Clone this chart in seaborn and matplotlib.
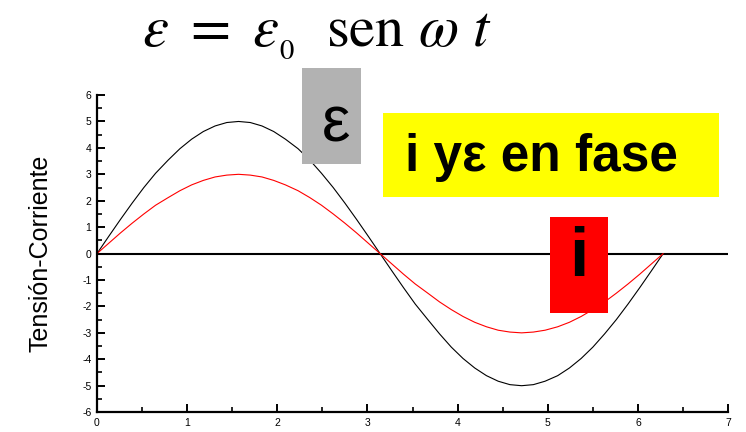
import matplotlib
matplotlib.use("Agg")
import matplotlib.pyplot as plt
import seaborn as sns
import pandas as pd
from matplotlib.ticker import MultipleLocator
from matplotlib.patches import Rectangle

# Data
t = [0, 0.13, 0.26, 0.39, 0.52, 0.65, 0.79, 0.92, 1.05, 1.18, 1.31, 1.44, 1.57,
     1.70, 1.83, 1.96, 2.09, 2.23, 2.36, 2.49, 2.62, 2.75, 2.88, 3.01, 3.14,
     3.27, 3.40, 3.53, 3.67, 3.80, 3.93, 4.06, 4.19, 4.32, 4.45, 4.58, 4.71,
     4.84, 4.97, 5.11, 5.24, 5.37, 5.50, 5.63, 5.76, 5.89, 6.02, 6.15, 6.28]
tension = [0, 0.65, 1.29, 1.91, 2.5, 3.04, 3.54, 3.97, 4.33, 4.62, 4.83, 4.96, 5.0,
           4.96, 4.83, 4.62, 4.33, 3.97, 3.54, 3.04, 2.5, 1.91, 1.29, 0.65, 0,
           -0.65, -1.29, -1.91, -2.5, -3.04, -3.54, -3.97, -4.33, -4.62, -4.83, -4.96, -5.0,
           -4.96, -4.83, -4.62, -4.33, -3.97, -3.54, -3.04, -2.5, -1.91, -1.29, -0.65, 0]
corriente = [0, 0.39, 0.78, 1.15, 1.5, 1.83, 2.12, 2.38, 2.6, 2.77, 2.9, 2.97, 3.0,
             2.97, 2.9, 2.77, 2.6, 2.38, 2.12, 1.83, 1.5, 1.15, 0.78, 0.39, 0,
             -0.39, -0.78, -1.15, -1.5, -1.83, -2.12, -2.38, -2.6, -2.77, -2.9, -2.97, -3.0,
             -2.97, -2.9, -2.77, -2.6, -2.38, -2.12, -1.83, -1.5, -1.15, -0.78, -0.39, 0]
x_ticks = [0, 1, 2, 3, 4, 5, 6, 7]
y_ticks = [-6, -5, -4, -3, -2, -1, 0, 1, 2, 3, 4, 5, 6]

df = pd.DataFrame({
    "t": t + t,
    "v": tension + corriente,
    "serie": ["eps"] * len(t) + ["i"] * len(t),
})

sns.set_style("white")
plt.rcParams["font.family"] = ["Liberation Sans", "DejaVu Sans"]
plt.rcParams["mathtext.fontset"] = "stix"
plt.rcParams["axes.unicode_minus"] = False
plt.rcParams["text.color"] = "black"
plt.rcParams["axes.labelcolor"] = "black"
plt.rcParams["xtick.color"] = "black"
plt.rcParams["ytick.color"] = "black"

fig = plt.figure(figsize=(7.46, 4.32), dpi=100)
ax = fig.add_axes([0.130, 0.046, 0.846, 0.734])

sns.lineplot(data=df, x="t", y="v", hue="serie", palette={"eps": "black", "i": "red"},
             sort=False, estimator=None, linewidth=0.8, legend=False, ax=ax)
ax.axhline(0, color="black", linewidth=1.5, zorder=1)

ax.set_xlim(0, 7)
ax.set_ylim(-6, 6)
ax.set_xticks(x_ticks)
ax.set_yticks(y_ticks)
ax.xaxis.set_minor_locator(MultipleLocator(0.5))
ax.yaxis.set_minor_locator(MultipleLocator(0.5))
ax.tick_params(which="major", direction="in", length=6, width=1.4, labelsize=7.5, pad=4,
               colors="black")
ax.tick_params(which="minor", direction="in", length=3.5, width=1.2, colors="black")
ax.tick_params(axis="x", which="both", bottom=True)
ax.tick_params(axis="y", which="both", left=True)
for s in ["top", "right"]:
    ax.spines[s].set_visible(False)
for s in ["left", "bottom"]:
    ax.spines[s].set_linewidth(1.6)
    ax.spines[s].set_color("black")
ax.set_xlabel("")
ax.set_ylabel("Tensión-Corriente", fontsize=18, labelpad=21, color="black")

# Title formula
fig.text(0.425, 0.922,
         r"$\varepsilon\ =\ \varepsilon_{_0}\ \ \mathrm{sen}\ \omega\ t$",
         fontsize=42, ha="center", va="center", color="black")

# Boxes
W, H = 746, 432
def box(x0, y0, x1, y1, color):
    fig.patches.append(Rectangle((x0 / W, 1 - y1 / H), (x1 - x0) / W, (y1 - y0) / H,
                                 transform=fig.transFigure, facecolor=color,
                                 edgecolor="none", zorder=5))

box(302, 68, 361, 164, "#b2b2b2")
box(383, 113, 719, 197, "#ffff00")
box(550, 217, 608, 313, "#ff0000")

fig.text(336 / W, 1 - 124 / H, "ε", fontsize=46, ha="center", va="center",
         zorder=6, color="black")
fig.text(541 / W, 1 - 157 / H, "i yε en fase", fontsize=37, fontweight="bold",
         ha="center", va="center", zorder=6, color="black")
fig.text(579 / W, 1 - 258 / H, "i", fontsize=50, fontweight="bold",
         ha="center", va="center", zorder=6, color="black")

fig.savefig("out.png", dpi=100)
